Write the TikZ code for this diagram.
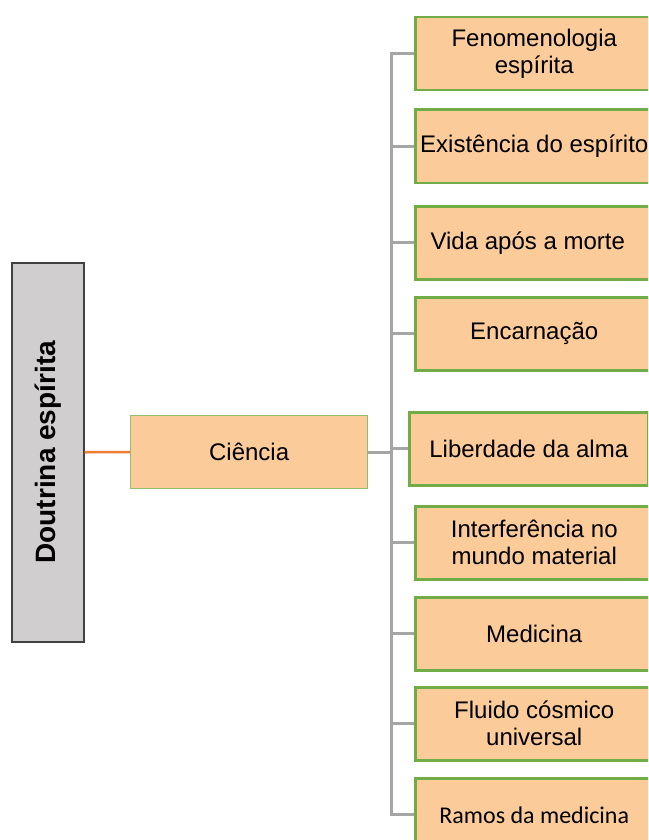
\documentclass[tikz,border=0pt]{standalone}
\usepackage{fontspec}
\setmainfont{Liberation Sans}
\newfontfamily\calib{Carlito}
\definecolor{peach}{HTML}{FBCB9A}
\definecolor{grnb}{HTML}{70AD47}
\definecolor{grnl}{HTML}{8DC06A}
\definecolor{greyf}{HTML}{D0CECE}
\definecolor{greyd}{HTML}{404040}
\definecolor{conn}{HTML}{A5A5A5}
\definecolor{orng}{HTML}{ED7D31}
\begin{document}
\begin{tikzpicture}[x=1pt,y=-1pt,
  childbox/.style={draw=grnb, line width=2.5pt, fill=peach, minimum width=238pt,
    minimum height=73pt, inner sep=1pt, align=center, anchor=north west,
    font=\fontsize{24}{27}\selectfont},
  cienbox/.style={draw=grnl, line width=1.3pt, fill=peach, minimum width=237pt,
    minimum height=73pt, anchor=north west, font=\fontsize{24}{27}\selectfont},
  rootbox/.style={draw=greyd, line width=1.5pt, fill=greyf, minimum width=72pt,
    minimum height=379pt, anchor=north west},
  bus/.style={draw=conn, line width=3pt},
  link/.style={draw=orng, line width=2.5pt}]
\clip (0,0) rectangle (648,840);
\fill[white] (0,0) rectangle (648,840);

\node[rootbox] (root) at (11,262) {};
\node[rotate=90, font=\bfseries\fontsize{28}{32}\selectfont] (roottxt) at (root.center) {Doutrina espírita};
\node[cienbox] (cien) at (130,415) {Ciência};

\node[childbox] (fen) at (414,16) {Fenomenologia\\espírita};
\node[childbox] (exi) at (414,108.5) {Existência do espírito};
\node[childbox] (vida) at (414,205) {Vida após a morte\hspace*{13pt}};
\node[childbox] (enc) at (414,296) {Encarnação};
\node[childbox, minimum width=239pt] (lib) at (408,411) {Liberdade da alma};
\node[childbox] (intf) at (414,505) {Interferência no\\mundo material};
\node[childbox] (med) at (414,596) {Medicina};
\node[childbox] (flu) at (414,686) {Fluido cósmico\\universal};
\node[childbox, font=\calib\fontsize{24}{27}\selectfont] (ramos) at (414,777) {Ramos da medicina};

\coordinate (bx) at (391,0);
\draw[link] (root.east) -- (cien.west);
\draw[bus] (fen.west) -- (fen.west -| bx) -- (ramos.west -| bx) -- (ramos.west);
\draw[bus] (cien.east) -- ([xshift=-1.5pt]cien.east -| bx);
\foreach \n in {exi,vida,enc,lib,intf,med,flu}
  \draw[bus] (\n.west) -- (\n.west -| bx);
\end{tikzpicture}
\end{document}
